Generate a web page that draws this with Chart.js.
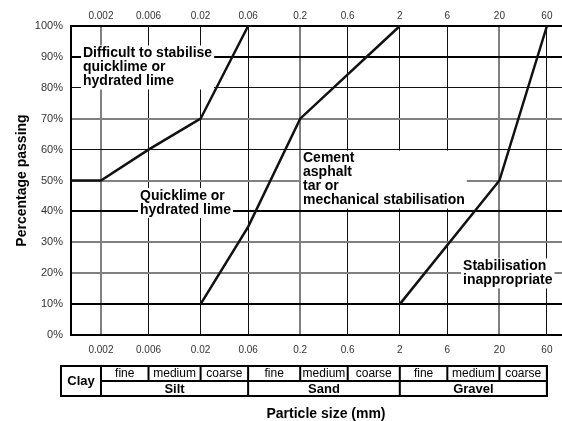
<!DOCTYPE html>
<html>
<head>
<meta charset="utf-8">
<script src="https://cdn.jsdelivr.net/npm/chart.js@4"></script>
<style>
  body { margin: 0; background: #fff; }
  canvas { display: block; }
</style>
</head>
<body>
<canvas id="gradingChart" width="562" height="421"></canvas>
<script>
const sizeTicks = [0.002, 0.006, 0.02, 0.06, 0.2, 0.6, 2, 6, 20, 60];
const sizeLabels = ["0.002", "0.006", "0.02", "0.06", "0.2", "0.6", "2", "6", "20", "60"];
const percentTicks = [0, 10, 20, 30, 40, 50, 60, 70, 80, 90, 100];

// grading boundary lines: particle size (mm) / % passing
const limeSizes = [0.001, 0.002, 0.006, 0.02, 0.06];
const limePassing = [50, 50, 60, 70, 100];
const cementSizes = [0.02, 0.06, 0.2, 2];
const cementPassing = [10, 35, 70, 100];
const gravelSizes = [2, 20, 60];
const gravelPassing = [10, 50, 100];

const soilTypes = ["Silt", "Sand", "Gravel"];
const soilGrades = ["fine", "medium", "coarse"];
const zoneTexts = [
  ["Difficult to stabilise", "quicklime or", "hydrated lime"],
  ["Quicklime or", "hydrated lime"],
  ["Cement", "asphalt", "tar or", "mechanical stabilisation"],
  ["Stabilisation", "inappropriate"]
];

const FONT = "'Liberation Sans', Arial, Helvetica, sans-serif";
Chart.defaults.font.family = FONT;

const toPoints = (xs, ys) => xs.map((x, i) => ({ x: x, y: ys[i] }));

// where each zone label sits (left edge of text, centre of first line)
const zoneAnchors = [
  { x: 0.00132, y: 91.1 },
  { x: 0.00493, y: 45 },
  { x: 0.2134, y: 57.1 },
  { x: 8.63, y: 22.2 }
];

const zoneLabels = {
  id: "zoneLabels",
  beforeDatasetsDraw(chart) {
    const { ctx, scales: { x, y } } = chart;
    ctx.save();
    ctx.font = "bold 14px " + FONT;
    ctx.textBaseline = "middle";
    zoneTexts.forEach((lines, k) => {
      const left = x.getPixelForValue(zoneAnchors[k].x);
      const top = y.getPixelForValue(zoneAnchors[k].y);
      const w = Math.max(...lines.map(t => ctx.measureText(t).width));
      ctx.fillStyle = "#fff";
      ctx.fillRect(left - 2, top - 8, w + 4, (lines.length - 1) * 14 + 16);
      ctx.fillStyle = "#000";
      lines.forEach((t, i) => ctx.fillText(t, left, top + i * 14));
    });
    ctx.restore();
  }
};

const sizeTable = {
  id: "sizeTable",
  afterDraw(chart) {
    const { ctx, chartArea, scales: { x } } = chart;
    const cols = sizeTicks.map(v => x.getPixelForValue(v));
    const left = cols[0] - 40;
    const right = cols[cols.length - 1];
    const top = chartArea.bottom + 31, mid = top + 15, bottom = top + 30;
    ctx.save();
    ctx.strokeStyle = "#000";
    ctx.lineWidth = 2;
    ctx.strokeRect(left, top, right - left, bottom - top);
    ctx.beginPath();
    cols.forEach((c, i) => {
      ctx.moveTo(c, top);
      ctx.lineTo(c, i % 3 === 0 ? bottom : mid);
    });
    ctx.moveTo(cols[0], mid);
    ctx.lineTo(right, mid);
    ctx.stroke();

    ctx.fillStyle = "#000";
    ctx.textAlign = "center";
    ctx.textBaseline = "middle";
    ctx.font = "12px " + FONT;
    soilTypes.forEach((s, si) => {
      soilGrades.forEach((g, gi) => {
        const a = cols[si * 3 + gi], b = cols[si * 3 + gi + 1];
        ctx.fillText(g, (a + b) / 2, (top + mid) / 2);
      });
    });
    ctx.font = "bold 13px " + FONT;
    soilTypes.forEach((s, si) => {
      ctx.fillText(s, (cols[si * 3] + cols[si * 3 + 3]) / 2, (mid + bottom) / 2 + 1);
    });
    ctx.fillText("Clay", (left + cols[0]) / 2, (top + bottom) / 2);

    ctx.font = "bold 14px " + FONT;
    ctx.fillText("Particle size (mm)", chartArea.left + 255, bottom + 18);
    ctx.restore();
  }
};

const lineStyle = {
  showLine: true,
  borderColor: "#111",
  borderWidth: 2.5,
  pointRadius: 0,
  tension: 0,
  clip: false
};

const xGridColor = c => [0.002, 0.2, 20].includes(c.tick.value) ? "#808080" : "#111";
const xGridWidth = c => [0.002, 0.2, 20].includes(c.tick.value) ? 2 : 1;
const yGridColor = c => {
  const v = c.tick.value;
  if ([0, 10, 40, 90, 100].includes(v)) return "#000";
  if ([20, 30, 50, 70].includes(v)) return "#808080";
  return "#111";
};
const yGridWidth = c => [60, 80].includes(c.tick.value) ? 1 : 2;

const sizeAxis = (position, padding) => ({
  type: "logarithmic",
  position: position,
  min: 0.001,
  max: 85,
  afterBuildTicks: s => { s.ticks = sizeTicks.map(v => ({ value: v })); },
  ticks: {
    autoSkip: false,
    maxRotation: 0,
    padding: padding,
    color: "#333",
    font: { size: 10 },
    callback: (v, i) => sizeLabels[i]
  },
  border: { color: "#000", width: 2 }
});

const ctx = document.getElementById("gradingChart").getContext("2d");
new Chart(ctx, {
  type: "scatter",
  data: {
    datasets: [
      { data: toPoints(limeSizes, limePassing), ...lineStyle },
      { data: toPoints(cementSizes, cementPassing), ...lineStyle },
      { data: toPoints(gravelSizes, gravelPassing), ...lineStyle }
    ]
  },
  options: {
    responsive: false,
    animation: false,
    layout: { padding: 0 },
    plugins: {
      legend: { display: false },
      tooltip: { enabled: false }
    },
    scales: {
      x: {
        ...sizeAxis("bottom", 9),
        afterFit: s => { s.height = 86; },
        grid: { drawTicks: false, color: xGridColor, lineWidth: xGridWidth }
      },
      x2: {
        ...sizeAxis("top", 4),
        afterFit: s => { s.height = 26; },
        grid: { display: false, drawTicks: false }
      },
      y: {
        min: 0,
        max: 100,
        afterBuildTicks: s => { s.ticks = percentTicks.map(v => ({ value: v })); },
        afterFit: s => { s.width = 71; },
        ticks: {
          padding: 8,
          color: "#333",
          font: { size: 11 },
          callback: v => v + "%"
        },
        grid: { drawTicks: false, color: yGridColor, lineWidth: yGridWidth },
        border: { color: "#000", width: 2 },
        title: {
          display: true,
          text: "Percentage passing",
          color: "#000",
          font: { size: 14, weight: "bold" },
          padding: { top: 14, bottom: 0 }
        }
      }
    }
  },
  plugins: [zoneLabels, sizeTable]
});
</script>
</body>
</html>
